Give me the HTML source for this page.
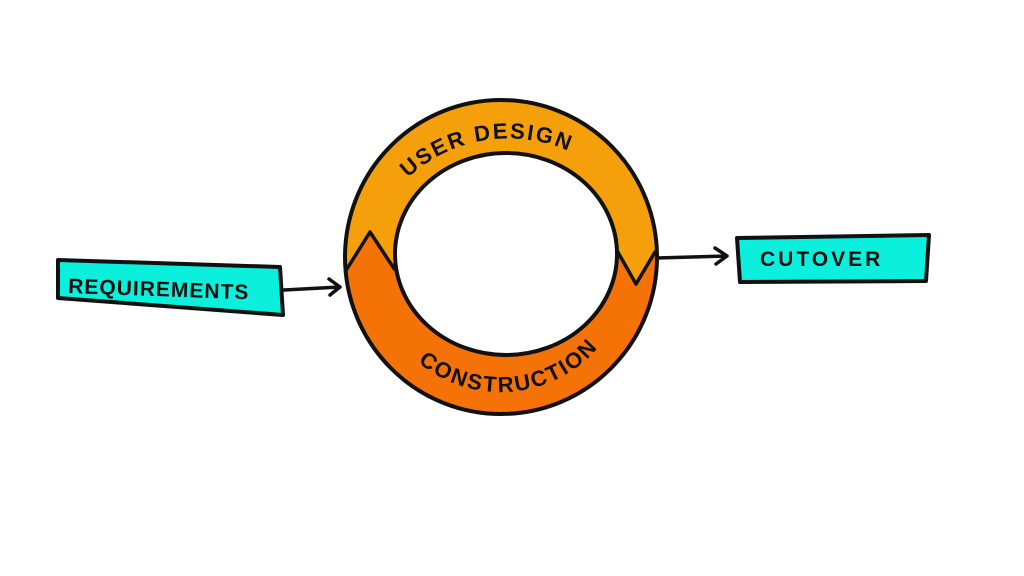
<!DOCTYPE html>
<html><head><meta charset="utf-8"><style>
html,body{margin:0;padding:0;background:#fff;}
svg{display:block;}
text{font-family:"Liberation Sans",sans-serif;font-weight:bold;fill:#111;}
</style></head><body>
<svg width="1024" height="576" viewBox="0 0 1024 576" xmlns="http://www.w3.org/2000/svg">
<defs>
<path id="topArc" d="M 408 178 A 140 130 0 0 1 600 170"/>
<path id="botArc" d="M 418 362 A 125 120 0 0 0 600 345"/>
<mask id="hole"><rect width="1024" height="576" fill="#fff"/><ellipse cx="506" cy="254" rx="111" ry="101" fill="#000"/></mask>
<clipPath id="outer"><ellipse cx="501" cy="257" rx="156" ry="157"/></clipPath>
</defs>
<g mask="url(#hole)" clip-path="url(#outer)">
<rect x="340" y="95" width="330" height="330" fill="#F57206"/>
<path d="M 330 90 L 680 90 L 680 248 L 655 252 L 636 284 L 615 247 L 506 254 L 395 270 L 370 232 L 345 272 L 330 275 Z" fill="#F5A00A"/>
<path d="M 340 274 L 345 272 L 370 232 L 395 270 M 615 247 L 636 284 L 655 252 L 665 250" fill="none" stroke="#111" stroke-width="3.5" stroke-linejoin="round"/>
</g>
<ellipse cx="501" cy="257" rx="156" ry="157" fill="none" stroke="#111" stroke-width="4"/>
<ellipse cx="506" cy="254" rx="111" ry="101" fill="none" stroke="#111" stroke-width="4"/>
<text font-size="22" letter-spacing="2"><textPath href="#topArc">USER DESIGN</textPath></text>
<text font-size="22" letter-spacing="2"><textPath href="#botArc">CONSTRUCTION</textPath></text>
<polygon points="58,260 280,267 283,315 58,298" fill="#0AF0DC" stroke="#111" stroke-width="4" stroke-linejoin="round"/>
<text x="68" y="293" font-size="21" letter-spacing="1" transform="rotate(2 68 293)">REQUIREMENTS</text>
<path d="M 284 290 L 340 287 M 329 279 L 340 287 L 330 295" fill="none" stroke="#111" stroke-width="3.5" stroke-linecap="round" stroke-linejoin="round"/>
<polygon points="737,238 929,235 926,281 740,282" fill="#0AF0DC" stroke="#111" stroke-width="4" stroke-linejoin="round"/>
<text x="760" y="266" font-size="21" letter-spacing="3">CUTOVER</text>
<path d="M 657 258 L 727 256 M 715 248 L 727 256 L 716 264" fill="none" stroke="#111" stroke-width="3.5" stroke-linecap="round" stroke-linejoin="round"/>
</svg>
</body></html>
